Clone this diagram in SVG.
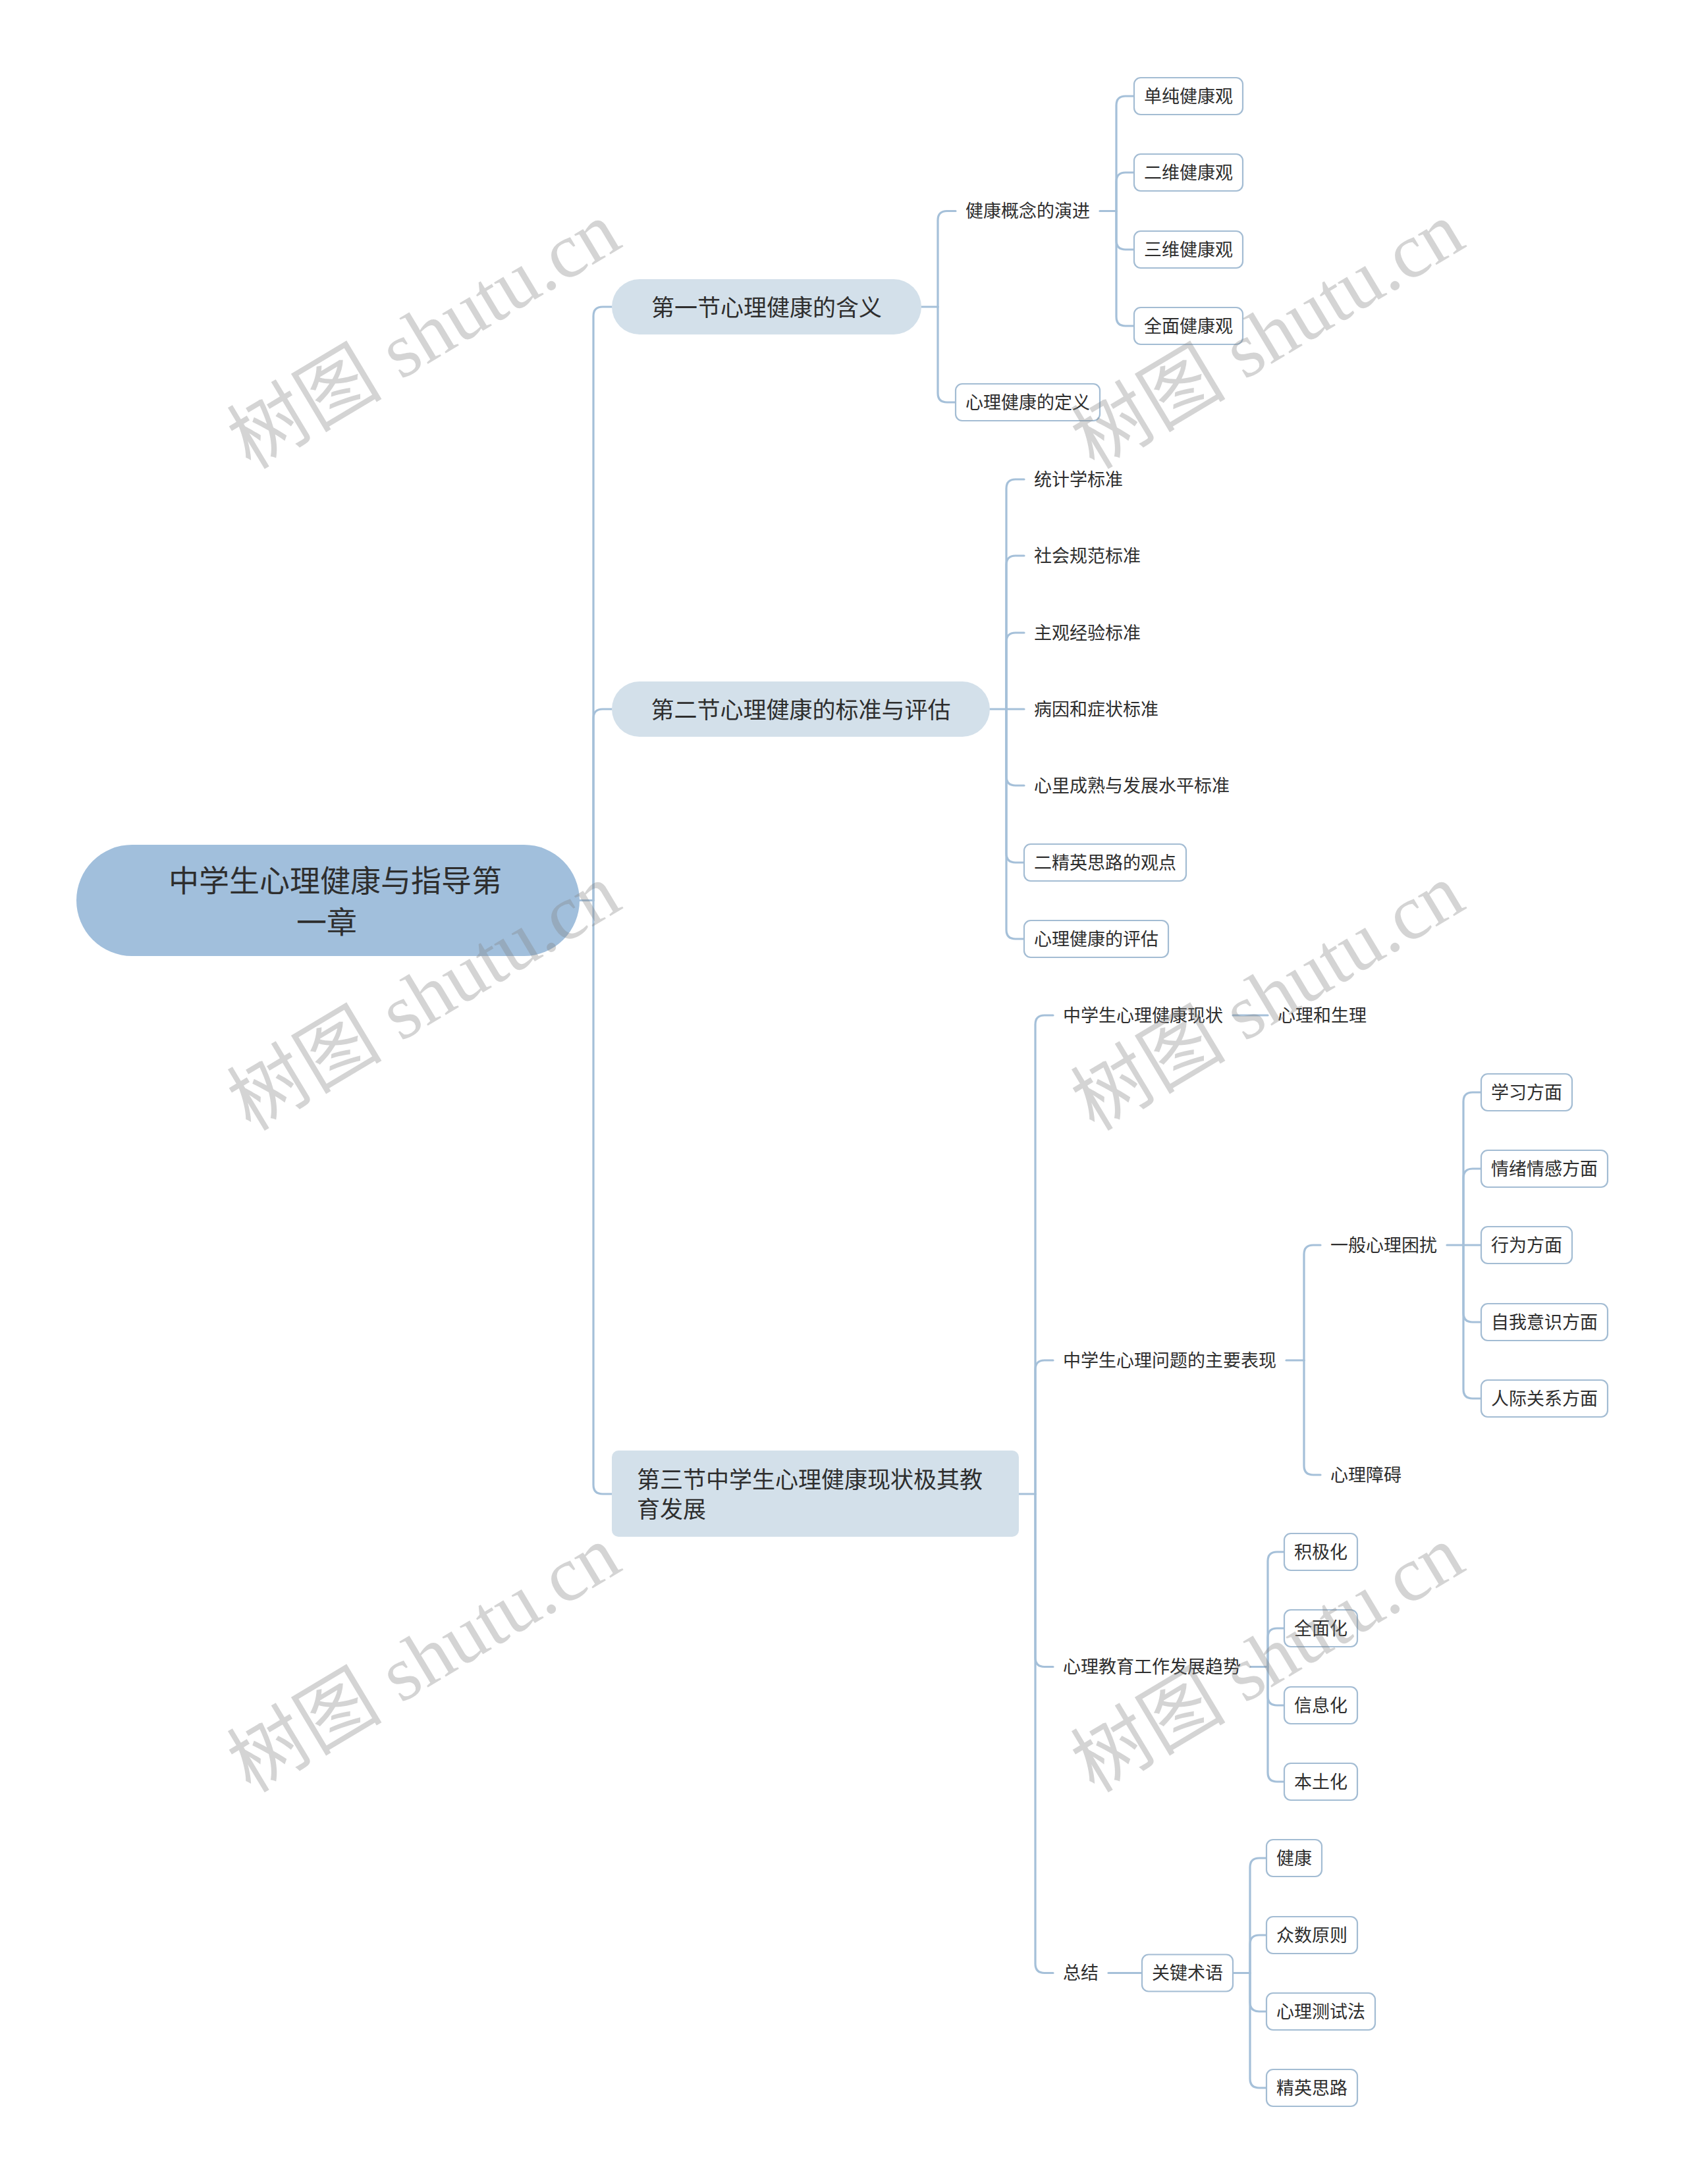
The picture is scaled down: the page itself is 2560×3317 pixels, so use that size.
<svg xmlns="http://www.w3.org/2000/svg" width="2560" height="3317" viewBox="0 0 2560 3317">
<style>
.ln{fill:none;stroke:#a5c0d9;stroke-width:3.2;stroke-linecap:round}
.t{font-family:"Noto Sans CJK SC","Noto Sans",sans-serif;fill:#2e2e2e;dominant-baseline:central;transform:translate(0px,-2px)}
.t27{font-size:27px}
.t35{font-size:35px}
.t46{font-size:46px}
.box{fill:#ffffff;stroke:#a3bcd3;stroke-width:2.2}
.sec{fill:#d3e0ea}
.root{fill:#a1bfdc}
.wm{font-family:"Liberation Serif","Noto Sans CJK SC",serif;font-size:118px;fill:#808080;fill-opacity:0.34;text-anchor:middle;dominant-baseline:central}
</style>
<rect x="0" y="0" width="2560" height="3317" fill="#ffffff"/>
<g id="connectors">
<path class="ln" d="M880 1367.5 H901"/>
<path class="ln" d="M901 1367.5 V480 Q901 466 915 466 H929"/>
<path class="ln" d="M901 1367.5 V1091 Q901 1077 915 1077 H929"/>
<path class="ln" d="M901 1367.5 V2255 Q901 2269 915 2269 H929"/>
<path class="ln" d="M1399 466 H1424"/>
<path class="ln" d="M1424 466 V334.5 Q1424 320.5 1438 320.5 H1451"/>
<path class="ln" d="M1424 466 V597 Q1424 611 1438 611 H1451"/>
<path class="ln" d="M1670 320.5 H1695"/>
<path class="ln" d="M1695 320.5 V160 Q1695 146 1709 146 H1722"/>
<path class="ln" d="M1695 320.5 V276 Q1695 262 1709 262 H1722"/>
<path class="ln" d="M1695 320.5 V365 Q1695 379 1709 379 H1722"/>
<path class="ln" d="M1695 320.5 V481 Q1695 495 1709 495 H1722"/>
<path class="ln" d="M1503 1077 H1528"/>
<path class="ln" d="M1528 1077 V742 Q1528 728 1542 728 H1555"/>
<path class="ln" d="M1528 1077 V858 Q1528 844 1542 844 H1555"/>
<path class="ln" d="M1528 1077 V975 Q1528 961 1542 961 H1555"/>
<path class="ln" d="M1528 1077 H1555"/>
<path class="ln" d="M1528 1077 V1179 Q1528 1193 1542 1193 H1555"/>
<path class="ln" d="M1528 1077 V1296 Q1528 1310 1542 1310 H1555"/>
<path class="ln" d="M1528 1077 V1412 Q1528 1426 1542 1426 H1555"/>
<path class="ln" d="M1547 2269 H1572"/>
<path class="ln" d="M1572 2269 V1556 Q1572 1542 1586 1542 H1599"/>
<path class="ln" d="M1572 2269 V2080 Q1572 2066 1586 2066 H1599"/>
<path class="ln" d="M1572 2269 V2517.5 Q1572 2531.5 1586 2531.5 H1599"/>
<path class="ln" d="M1572 2269 V2982.5 Q1572 2996.5 1586 2996.5 H1599"/>
<path class="ln" d="M1872 1542 H1925"/>
<path class="ln" d="M1953 2066 H1980"/>
<path class="ln" d="M1980 2066 V1905 Q1980 1891 1994 1891 H2005"/>
<path class="ln" d="M1980 2066 V2226 Q1980 2240 1994 2240 H2005"/>
<path class="ln" d="M2197 1891 H2222"/>
<path class="ln" d="M2222 1891 V1673 Q2222 1659 2236 1659 H2249"/>
<path class="ln" d="M2222 1891 V1789 Q2222 1775 2236 1775 H2249"/>
<path class="ln" d="M2222 1891 H2249"/>
<path class="ln" d="M2222 1891 V1994 Q2222 2008 2236 2008 H2249"/>
<path class="ln" d="M2222 1891 V2110 Q2222 2124 2236 2124 H2249"/>
<path class="ln" d="M1899 2531.5 H1925"/>
<path class="ln" d="M1925 2531.5 V2371 Q1925 2357 1939 2357 H1950"/>
<path class="ln" d="M1925 2531.5 V2487 Q1925 2473 1939 2473 H1950"/>
<path class="ln" d="M1925 2531.5 V2576 Q1925 2590 1939 2590 H1950"/>
<path class="ln" d="M1925 2531.5 V2692 Q1925 2706 1939 2706 H1950"/>
<path class="ln" d="M1683 2996.5 H1734"/>
<path class="ln" d="M1872 2996.5 H1898"/>
<path class="ln" d="M1898 2996.5 V2836 Q1898 2822 1912 2822 H1923"/>
<path class="ln" d="M1898 2996.5 V2953 Q1898 2939 1912 2939 H1923"/>
<path class="ln" d="M1898 2996.5 V3041 Q1898 3055 1912 3055 H1923"/>
<path class="ln" d="M1898 2996.5 V3157 Q1898 3171 1912 3171 H1923"/>
</g>
<g id="root">
<rect class="root" x="116" y="1283" width="764" height="169" rx="84.5"/>
<text class="t t46" x="256" y="1336">中学生心理健康与指导第</text>
<text class="t t46" x="450" y="1399">一章</text>
</g>
<g id="sec1">
<rect class="sec" x="929" y="424" width="470" height="84" rx="42"/>
<text class="t t35" x="1164" y="466" text-anchor="middle">第一节心理健康的含义</text>
</g>
<g id="sec2">
<rect class="sec" x="929" y="1035" width="574" height="84" rx="42"/>
<text class="t t35" x="1216" y="1077" text-anchor="middle">第二节心理健康的标准与评估</text>
</g>
<g id="sec3">
<rect class="sec" x="929" y="2203" width="618" height="131" rx="10"/>
<text class="t t35" x="967" y="2246">第三节中学生心理健康现状极其教</text>
<text class="t t35" x="967" y="2291">育发展</text>
</g>
<g id="n-jkgndyj"><text class="t t27" x="1466" y="320.5">健康概念的演进</text></g>
<g id="n-dcjkg"><rect class="box" x="1722" y="118" width="165" height="56" rx="10"/><text class="t t27" x="1737" y="146">单纯健康观</text></g>
<g id="n-ewjkg"><rect class="box" x="1722" y="234" width="165" height="56" rx="10"/><text class="t t27" x="1737" y="262">二维健康观</text></g>
<g id="n-swjkg"><rect class="box" x="1722" y="351" width="165" height="56" rx="10"/><text class="t t27" x="1737" y="379">三维健康观</text></g>
<g id="n-qmjkg"><rect class="box" x="1722" y="467" width="165" height="56" rx="10"/><text class="t t27" x="1737" y="495">全面健康观</text></g>
<g id="n-xljkdy"><rect class="box" x="1451" y="583" width="219" height="56" rx="10"/><text class="t t27" x="1466" y="611">心理健康的定义</text></g>
<g id="n-tjx"><text class="t t27" x="1570" y="728">统计学标准</text></g>
<g id="n-shgf"><text class="t t27" x="1570" y="844">社会规范标准</text></g>
<g id="n-zgjy"><text class="t t27" x="1570" y="961">主观经验标准</text></g>
<g id="n-byzz"><text class="t t27" x="1570" y="1077">病因和症状标准</text></g>
<g id="n-xlcs"><text class="t t27" x="1570" y="1193">心里成熟与发展水平标准</text></g>
<g id="n-ejysl"><rect class="box" x="1555" y="1282" width="246" height="56" rx="10"/><text class="t t27" x="1570" y="1310">二精英思路的观点</text></g>
<g id="n-xljkpg"><rect class="box" x="1555" y="1398" width="219" height="56" rx="10"/><text class="t t27" x="1570" y="1426">心理健康的评估</text></g>
<g id="n-zxsxz"><text class="t t27" x="1614" y="1542">中学生心理健康现状</text></g>
<g id="n-xlhsl"><text class="t t27" x="1940" y="1542">心理和生理</text></g>
<g id="n-zxswt"><text class="t t27" x="1614" y="2066">中学生心理问题的主要表现</text></g>
<g id="n-ybxlkr"><text class="t t27" x="2020" y="1891">一般心理困扰</text></g>
<g id="n-xxfm"><rect class="box" x="2249" y="1631" width="138" height="56" rx="10"/><text class="t t27" x="2264" y="1659">学习方面</text></g>
<g id="n-qxqg"><rect class="box" x="2249" y="1747" width="192" height="56" rx="10"/><text class="t t27" x="2264" y="1775">情绪情感方面</text></g>
<g id="n-xwfm"><rect class="box" x="2249" y="1863" width="138" height="56" rx="10"/><text class="t t27" x="2264" y="1891">行为方面</text></g>
<g id="n-zwys"><rect class="box" x="2249" y="1980" width="192" height="56" rx="10"/><text class="t t27" x="2264" y="2008">自我意识方面</text></g>
<g id="n-rjgx"><rect class="box" x="2249" y="2096" width="192" height="56" rx="10"/><text class="t t27" x="2264" y="2124">人际关系方面</text></g>
<g id="n-xlza"><text class="t t27" x="2020" y="2240">心理障碍</text></g>
<g id="n-xljyqs"><text class="t t27" x="1614" y="2531.5">心理教育工作发展趋势</text></g>
<g id="n-jjh"><rect class="box" x="1950" y="2329" width="111" height="56" rx="10"/><text class="t t27" x="1965" y="2357">积极化</text></g>
<g id="n-qmh"><rect class="box" x="1950" y="2445" width="111" height="56" rx="10"/><text class="t t27" x="1965" y="2473">全面化</text></g>
<g id="n-xxh"><rect class="box" x="1950" y="2562" width="111" height="56" rx="10"/><text class="t t27" x="1965" y="2590">信息化</text></g>
<g id="n-btn"><rect class="box" x="1950" y="2678" width="111" height="56" rx="10"/><text class="t t27" x="1965" y="2706">本土化</text></g>
<g id="n-zj"><text class="t t27" x="1614" y="2996.5">总结</text></g>
<g id="n-gjsy"><rect class="box" x="1734" y="2968.5" width="138" height="56" rx="10"/><text class="t t27" x="1749" y="2996.5">关键术语</text></g>
<g id="n-jk"><rect class="box" x="1923" y="2794" width="84" height="56" rx="10"/><text class="t t27" x="1938" y="2822">健康</text></g>
<g id="n-zsyz"><rect class="box" x="1923" y="2911" width="138" height="56" rx="10"/><text class="t t27" x="1938" y="2939">众数原则</text></g>
<g id="n-xlcsf"><rect class="box" x="1923" y="3027" width="165" height="56" rx="10"/><text class="t t27" x="1938" y="3055">心理测试法</text></g>
<g id="n-jysl"><rect class="box" x="1923" y="3143" width="138" height="56" rx="10"/><text class="t t27" x="1938" y="3171">精英思路</text></g>
<g id="watermarks">
<text class="wm" transform="translate(644 510) rotate(-31)">树图 shutu.cn</text>
<text class="wm" transform="translate(1925 510) rotate(-31)">树图 shutu.cn</text>
<text class="wm" transform="translate(644 1515) rotate(-31)">树图 shutu.cn</text>
<text class="wm" transform="translate(1925 1515) rotate(-31)">树图 shutu.cn</text>
<text class="wm" transform="translate(644 2520) rotate(-31)">树图 shutu.cn</text>
<text class="wm" transform="translate(1925 2520) rotate(-31)">树图 shutu.cn</text>
</g>
</svg>
